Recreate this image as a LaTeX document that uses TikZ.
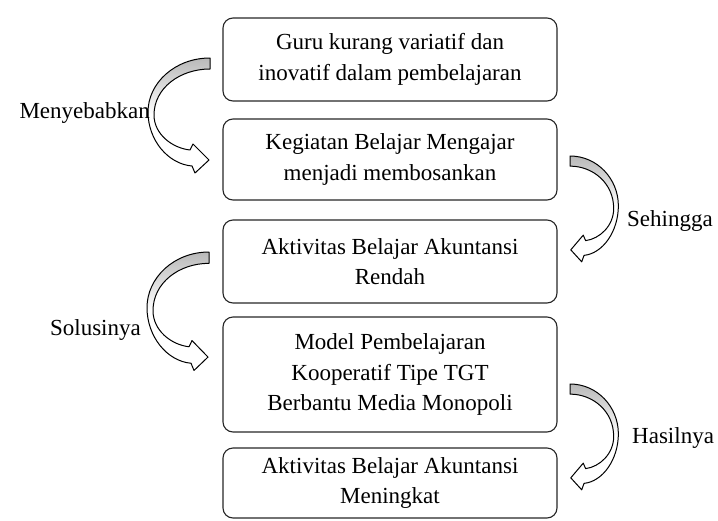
\documentclass[tikz,border=0pt]{standalone}
\usepackage{fontspec}
\setmainfont{Liberation Serif}
\newcommand\mycurvedarrow{%
  \shade[top color=gray!55, bottom color=white]
    (0,0) .. controls (-35,0) and (-62,25) .. (-62,54) -- (-56,57)
    .. controls (-56,30) and (-30,11) .. (0,11) -- cycle;
  \draw[arr] (0,0) .. controls (-35,0) and (-62,25) .. (-62,54)
    .. controls (-62,82) and (-42,106) .. (-18,108) -- (-15,115) -- (-1,102)
    -- (-17,86) -- (-20,92) .. controls (-38,90) and (-56,76) .. (-56,57)
    .. controls (-56,30) and (-30,11) .. (0,11) -- cycle;
}
\begin{document}
\begin{tikzpicture}[x=1pt,y=-1pt,
  box/.style={draw=black!85, line width=1.1pt, rounded corners=10pt, align=center,
    font=\fontsize{23}{30.5}\selectfont, text=black, inner sep=0pt,
    minimum width=334pt},
  lbl/.style={font=\fontsize{23}{27}\selectfont, inner sep=0pt, text=black},
  arr/.style={draw=black, line width=1pt, line join=round}]
\useasboundingbox (0,0) rectangle (718,520);

\node[box, minimum height=83pt] (b1) at (390,59.5) {Guru kurang variatif dan\\inovatif dalam pembelajaran};
\node[box, minimum height=81pt] (b2) at (390,159.5) {Kegiatan Belajar Mengajar\\menjadi membosankan};
\node[box, minimum height=83pt] (b3) at (390,261.5) {Aktivitas Belajar Akuntansi\\Rendah};
\node[box, minimum height=115pt] (b4) at (390,374.5) {Model Pembelajaran\\Kooperatif Tipe TGT\\Berbantu Media Monopoli};
\node[box, minimum height=70pt] (b5) at (390,483) {Aktivitas Belajar Akuntansi\\Meningkat};

\begin{scope}[shift={(210,58)}]
  \mycurvedarrow
\end{scope}
\begin{scope}[shift={(209,252)}, yscale=1.03]
  \mycurvedarrow
\end{scope}
\begin{scope}[shift={(570,156)}, xscale=-0.78, yscale=0.92]
  \mycurvedarrow
\end{scope}
\begin{scope}[shift={(570,384)}, xscale=-0.78, yscale=0.92]
  \mycurvedarrow
\end{scope}

\node[lbl, anchor=east] (l1) at (150,113) {Menyebabkan};
\node[lbl, anchor=west] (l2) at (627,221) {Sehingga};
\node[lbl, anchor=east] (l3) at (141,330) {Solusinya};
\node[lbl, anchor=west] (l4) at (632,438) {Hasilnya};
\end{tikzpicture}
\end{document}
